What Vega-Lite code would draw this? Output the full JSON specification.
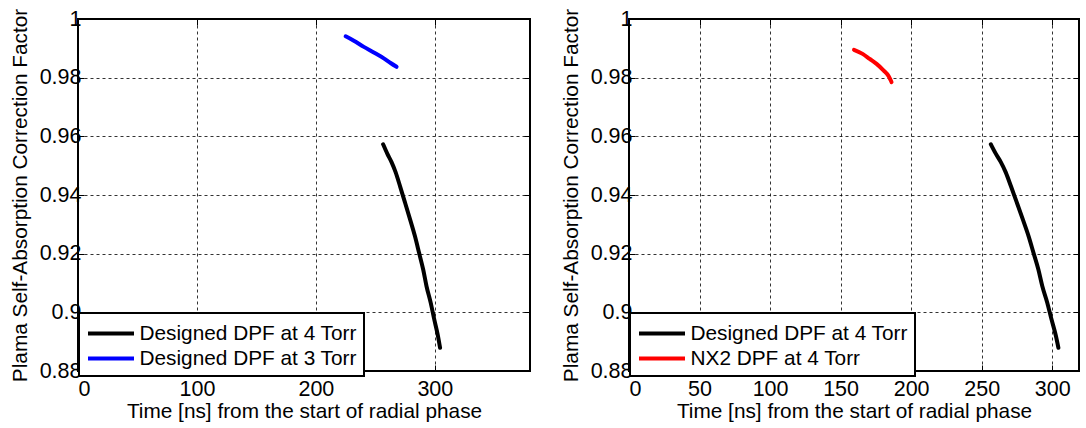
{
  "$schema": "https://vega.github.io/schema/vega-lite/v6.json",
  "background": "white",
  "padding": {"left": 8, "top": 7, "right": 0, "bottom": 0},
  "datasets": {
    "curves": [
      {"series": "Designed DPF at 4 Torr", "t": 256.5, "factor": 0.9573},
      {"series": "Designed DPF at 4 Torr", "t": 260.0, "factor": 0.9541},
      {"series": "Designed DPF at 4 Torr", "t": 263.5, "factor": 0.9513},
      {"series": "Designed DPF at 4 Torr", "t": 267.0, "factor": 0.9478},
      {"series": "Designed DPF at 4 Torr", "t": 270.9, "factor": 0.9428},
      {"series": "Designed DPF at 4 Torr", "t": 275.1, "factor": 0.9372},
      {"series": "Designed DPF at 4 Torr", "t": 279.3, "factor": 0.9315},
      {"series": "Designed DPF at 4 Torr", "t": 283.3, "factor": 0.9259},
      {"series": "Designed DPF at 4 Torr", "t": 286.8, "factor": 0.9202},
      {"series": "Designed DPF at 4 Torr", "t": 290.2, "factor": 0.9146},
      {"series": "Designed DPF at 4 Torr", "t": 293.0, "factor": 0.9089},
      {"series": "Designed DPF at 4 Torr", "t": 296.5, "factor": 0.9033},
      {"series": "Designed DPF at 4 Torr", "t": 299.5, "factor": 0.8976},
      {"series": "Designed DPF at 4 Torr", "t": 302.6, "factor": 0.8920},
      {"series": "Designed DPF at 4 Torr", "t": 304.4, "factor": 0.8879},
      {"series": "Designed DPF at 3 Torr", "t": 225.0, "factor": 0.9941},
      {"series": "Designed DPF at 3 Torr", "t": 231.9, "factor": 0.9926},
      {"series": "Designed DPF at 3 Torr", "t": 240.3, "factor": 0.9905},
      {"series": "Designed DPF at 3 Torr", "t": 248.7, "factor": 0.9886},
      {"series": "Designed DPF at 3 Torr", "t": 257.1, "factor": 0.9866},
      {"series": "Designed DPF at 3 Torr", "t": 262.8, "factor": 0.9850},
      {"series": "Designed DPF at 3 Torr", "t": 267.8, "factor": 0.9837},
      {"series": "NX2 DPF at 4 Torr", "t": 159.5, "factor": 0.9895},
      {"series": "NX2 DPF at 4 Torr", "t": 165.6, "factor": 0.9881},
      {"series": "NX2 DPF at 4 Torr", "t": 170.6, "factor": 0.9864},
      {"series": "NX2 DPF at 4 Torr", "t": 175.5, "factor": 0.9847},
      {"series": "NX2 DPF at 4 Torr", "t": 180.4, "factor": 0.9825},
      {"series": "NX2 DPF at 4 Torr", "t": 184.1, "factor": 0.9805},
      {"series": "NX2 DPF at 4 Torr", "t": 186.1, "factor": 0.9785}
    ]
  },
  "config": {
    "font": "Liberation Sans",
    "view": {"stroke": "#000000", "strokeWidth": 2},
    "axis": {
      "labelFont": "Liberation Sans",
      "labelFontSize": 21.5,
      "labelColor": "#000000",
      "titleFont": "Liberation Sans",
      "titleFontSize": 20.8,
      "titleFontWeight": "normal",
      "titleColor": "#000000",
      "domain": false,
      "tickColor": "#000000",
      "tickSize": -6,
      "tickWidth": 1,
      "gridColor": "#000000",
      "gridDash": [3, 3],
      "gridWidth": 1,
      "gridOpacity": 0.8
    },
    "axisX": {"labelPadding": 13, "titlePadding": 2},
    "axisY": {"labelPadding": 3, "titlePadding": 9},
    "legend": {
      "labelFont": "Liberation Sans",
      "labelFontSize": 20.8,
      "labelColor": "#000000",
      "labelLimit": 0,
      "strokeColor": "#000000",
      "strokeWidth": 2,
      "fillColor": "#ffffff",
      "padding": 7,
      "rowPadding": 1,
      "symbolType": "M-2,0H2",
      "symbolSize": 529,
      "symbolOffset": 11.5,
      "labelOffset": 15,
      "symbolStrokeWidth": 4,
      "orient": "none",
      "legendX": 1,
      "legendY": 294,
      "title": null
    }
  },
  "spacing": 99,
  "bounds": "flush",
  "resolve": {"scale": {"color": "independent"}, "legend": {"color": "independent"}},
  "hconcat": [
    {
      "width": 452,
      "height": 352,
      "data": {"name": "curves"},
      "transform": [{"filter": {"field": "series", "oneOf": ["Designed DPF at 4 Torr", "Designed DPF at 3 Torr"]}}],
      "resolve": {"axis": {"x": "independent", "y": "independent"}},
      "layer": [
        {
          "mark": {"type": "line", "strokeWidth": 4, "strokeJoin": "round", "strokeCap": "round", "interpolate": "monotone"},
          "encoding": {
            "x": {"field": "t", "type": "quantitative", "scale": {"domain": [0, 380], "nice": false, "zero": false},
                  "axis": {"values": [0, 100, 200, 300], "grid": true, "title": "Time [ns] from the start of radial phase"}},
            "y": {"field": "factor", "type": "quantitative", "scale": {"domain": [0.88, 1], "nice": false, "zero": false},
                  "axis": {"values": [0.88, 0.9, 0.92, 0.94, 0.96, 0.98, 1], "format": "~g", "grid": true, "title": "Plama Self-Absorption Correction Factor"}},
            "color": {"field": "series", "type": "nominal",
                      "scale": {"domain": ["Designed DPF at 4 Torr", "Designed DPF at 3 Torr"], "range": ["#000000", "#0000ff"]}}
          }
        },
        {
          "mark": {"type": "line", "strokeOpacity": 0},
          "encoding": {
            "x": {"field": "t", "type": "quantitative",
                  "axis": {"orient": "top", "values": [0, 100, 200, 300], "labels": false, "title": null, "grid": false}},
            "y": {"field": "factor", "type": "quantitative",
                  "axis": {"orient": "right", "values": [0.88, 0.9, 0.92, 0.94, 0.96, 0.98, 1], "labels": false, "title": null, "grid": false}}
          }
        }
      ]
    },
    {
      "width": 450,
      "height": 352,
      "data": {"name": "curves"},
      "transform": [{"filter": {"field": "series", "oneOf": ["Designed DPF at 4 Torr", "NX2 DPF at 4 Torr"]}}],
      "resolve": {"axis": {"x": "independent", "y": "independent"}},
      "layer": [
        {
          "mark": {"type": "line", "strokeWidth": 4, "strokeJoin": "round", "strokeCap": "round", "interpolate": "monotone"},
          "encoding": {
            "x": {"field": "t", "type": "quantitative", "scale": {"domain": [0, 319], "nice": false, "zero": false},
                  "axis": {"values": [0, 50, 100, 150, 200, 250, 300], "grid": true, "title": "Time [ns] from the start of radial phase"}},
            "y": {"field": "factor", "type": "quantitative", "scale": {"domain": [0.88, 1], "nice": false, "zero": false},
                  "axis": {"values": [0.88, 0.9, 0.92, 0.94, 0.96, 0.98, 1], "format": "~g", "grid": true, "title": "Plama Self-Absorption Correction Factor"}},
            "color": {"field": "series", "type": "nominal",
                      "scale": {"domain": ["Designed DPF at 4 Torr", "NX2 DPF at 4 Torr"], "range": ["#000000", "#ff0000"]}}
          }
        },
        {
          "mark": {"type": "line", "strokeOpacity": 0},
          "encoding": {
            "x": {"field": "t", "type": "quantitative",
                  "axis": {"orient": "top", "values": [0, 50, 100, 150, 200, 250, 300], "labels": false, "title": null, "grid": false}},
            "y": {"field": "factor", "type": "quantitative",
                  "axis": {"orient": "right", "values": [0.88, 0.9, 0.92, 0.94, 0.96, 0.98, 1], "labels": false, "title": null, "grid": false}}
          }
        }
      ]
    }
  ]
}
